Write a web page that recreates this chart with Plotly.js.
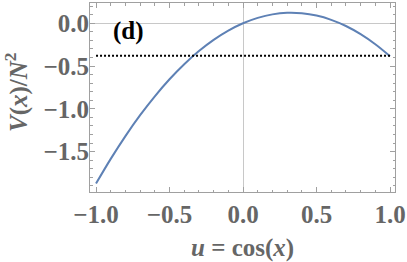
<!DOCTYPE html>
<html><head><meta charset="utf-8">
<script src="https://cdn.plot.ly/plotly-3.0.1.min.js"></script>
<style>html,body{margin:0;padding:0;background:#fff}#c{width:407px;height:262px}</style>
</head><body><div id="c"></div>
<script>
const u = [-1.0,-0.9,-0.8,-0.7,-0.6,-0.5,-0.4,-0.3,-0.2,-0.1,0.0,0.1,0.2,0.3,0.4,0.5,0.6,0.7,0.8,0.9,1.0];
const V = [-1.875,-1.586,-1.319,-1.075,-0.854,-0.655,-0.479,-0.325,-0.194,-0.086,0.0,0.063,0.104,0.122,0.117,0.090,0.040,-0.032,-0.127,-0.245,-0.385];
const levelU = [-1.0, 1.0];
const levelV = [-0.38, -0.38];
const xTicks = [-1.0,-0.5,0.0,0.5,1.0];
const yTicks = [0.0,-0.5,-1.0,-1.5];
const panelLabel = "(d)";

const gray = "#666666";
const frame = "#a0a0a0";
const fam = "Liberation Serif";
const fnt = {family: fam, size: 25, color: gray, weight: "bold"};

const data = [
  {x: u, y: V, mode: "lines", line: {color: "#5E81B5", width: 2, shape: "spline"}, hoverinfo: "skip"},
  {x: levelU, y: levelV, mode: "lines", line: {color: "#000", width: 2, dash: "2px,2px"}, hoverinfo: "skip"}
];
const axisCommon = {
  showgrid: false, zeroline: true, zerolinecolor: "#c8c8c8", zerolinewidth: 1,
  showline: true, linecolor: frame, linewidth: 1, mirror: "ticks",
  ticks: "inside", ticklen: 5, tickcolor: frame, tickwidth: 1,
  tickfont: fnt, tickformat: ".1f",
  minor: {dtick: 0.1, ticks: "inside", ticklen: 2.5, tickcolor: frame, showgrid: false}
};
const layout = {
  width: 407, height: 262,
  margin: {l: 90, r: 12, t: 3, b: 70},
  paper_bgcolor: "#fff", plot_bgcolor: "#fff",
  showlegend: false,
  xaxis: Object.assign({}, axisCommon, {range: [-1.041, 1.034], tickvals: xTicks}),
  yaxis: Object.assign({}, axisCommon, {range: [-1.973, 0.237], tickvals: yTicks, ticklabelstandoff: -5}),
  annotations: [
    {text: "<b>" + panelLabel + "</b>", x: -0.782, y: -0.09, xref: "x", yref: "y", showarrow: false,
     font: {family: fam, size: 25, color: "#000"}},
    {text: "<b><i>u</i> = cos(<i>x</i>)</b>", x: 0.5, xref: "paper", y: 0, yref: "paper", showarrow: false,
     font: {family: fam, size: 25, color: gray}},
    {text: "<b><i>V</i>(<i>x</i>)/<i>N</i><sup>2</sup></b>", textangle: -90, xref: "paper", yref: "paper",
     x: 0, y: 0, showarrow: false, font: {family: fam, size: 25, color: gray}}
  ]
};
const plotW = 407 - 90 - 12, plotH = 262 - 3 - 70;
layout.annotations[1].y = (192 - 248) / plotH;
layout.annotations[1].yanchor = "middle";
layout.annotations[2].x = (16 - 90) / plotW;
layout.annotations[2].y = (192 - 92) / plotH;
layout.annotations[2].xanchor = "center";
layout.annotations[2].yanchor = "middle";
Plotly.newPlot("c", data, layout, {staticPlot: true});
</script></body></html>
